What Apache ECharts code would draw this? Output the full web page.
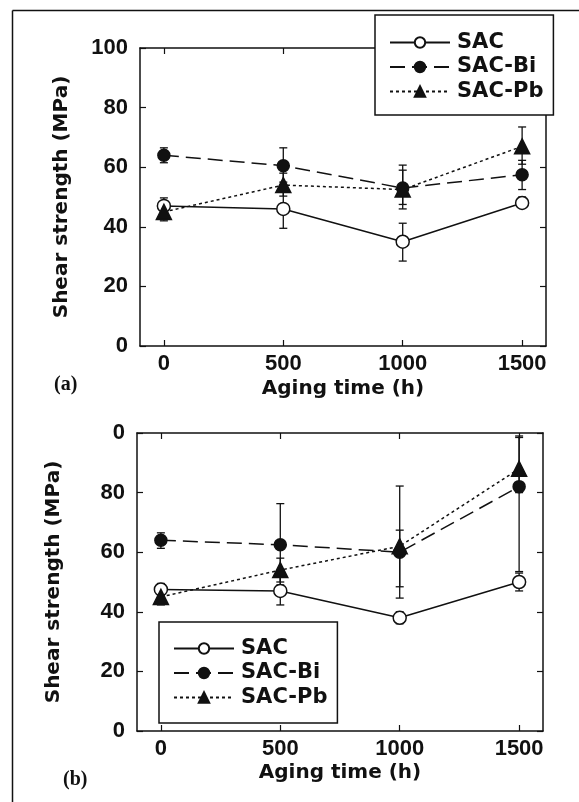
<!DOCTYPE html>
<html>
<head>
<meta charset="utf-8">
<title>Shear strength vs. aging time</title>
<script src="https://cdn.jsdelivr.net/npm/echarts@6/dist/echarts.min.js"></script>
<style>
  html, body { margin: 0; padding: 0; background: #fff; }
  #chart { width: 579px; height: 802px; }
</style>
</head>
<body>
<div id="chart"></div>
<script>
// Aging times (h) shared by both panels
const hours = [0, 500, 1000, 1500];
const xTickValues = [0, 500, 1000, 1500];
const yTicksA = ['0', '20', '40', '60', '80', '100'];
const yTicksB = ['0', '20', '40', '60', '80', '0'];
const seriesNames = ['SAC', 'SAC-Bi', 'SAC-Pb'];

// Panel (a): mean shear strength (MPa)
const sacA = [47, 46, 35, 48];
const biA  = [64, 60.5, 53, 57.5];
const pbA  = [45, 54, 52.5, 67];
// Panel (a): error bar limits
const sacALow = [45, 39.5, 28.5, 46.5];
const sacAHigh = [49.7, 52, 41.2, 50];
const biALow = [61.5, 55, 46, 52.5];
const biAHigh = [66.5, 66.5, 59, 62.3];
const pbALow = [42, 50.3, 47.5, 61];
const pbAHigh = [48, 58, 60.7, 73.5];

// Panel (b): mean shear strength (MPa)
const sacB = [47.5, 47, 38, 50];
const biB  = [64, 62.5, 60, 82];
const pbB  = [45, 54, 62, 88];
// Panel (b): error bar limits
const sacBLow = [45.5, 42.3, 36, 47];
const sacBHigh = [49.5, 52, 40, 53];
const biBLow = [61.3, 49, 44.6, 53.5];
const biBHigh = [66.5, 76.3, 82.2, 98.5];
const pbBLow = [42.3, 50, 48.4, 80];
const pbBHigh = [47.7, 58, 67.4, 99];

const INK = '#111';
const TICK_FONT = { color: INK, fontFamily: '"Liberation Sans", Arial, sans-serif', fontWeight: 'bold', fontSize: 22 };
const NAME_FONT = { color: INK, fontFamily: '"DejaVu Sans", sans-serif', fontWeight: 'bold', fontSize: 20 };

const styles = {
  'SAC':    { symbol: 'circle',   symbolSize: 13, line: { type: 'solid', width: 1.5 }, fill: '#fff' },
  'SAC-Bi': { symbol: 'circle',   symbolSize: 12, line: { type: [15, 7], width: 1.5 }, fill: INK },
  'SAC-Pb': { symbol: 'triangle', symbolSize: 15, line: { type: [3, 3], width: 1.5 }, fill: INK }
};

function lineSeries(name, values, gridIdx) {
  const s = styles[name];
  return {
    name: name,
    type: 'line',
    xAxisIndex: gridIdx * 2,
    yAxisIndex: gridIdx * 2,
    data: hours.map((h, i) => [h, values[i]]),
    symbol: s.symbol,
    symbolSize: s.symbolSize,
    showAllSymbol: true,
    lineStyle: { color: INK, width: s.line.width, type: s.line.type },
    itemStyle: { color: s.fill, borderColor: INK, borderWidth: 1.5 },
    emphasis: { disabled: true },
    z: 3
  };
}

function errorSeries(low, high, gridIdx) {
  return {
    type: 'custom',
    xAxisIndex: gridIdx * 2,
    yAxisIndex: gridIdx * 2,
    data: hours.map((h, i) => [h, low[i], high[i]]),
    silent: true,
    z: 2,
    renderItem: function (params, api) {
      const top = api.coord([api.value(0), api.value(2)]);
      const bot = api.coord([api.value(0), api.value(1)]);
      const half = 4;
      const style = { stroke: INK, lineWidth: 1.3, fill: null };
      return {
        type: 'group',
        children: [
          { type: 'line', shape: { x1: top[0], y1: top[1], x2: bot[0], y2: bot[1] }, style: style },
          { type: 'line', shape: { x1: top[0] - half, y1: top[1], x2: top[0] + half, y2: top[1] }, style: style },
          { type: 'line', shape: { x1: bot[0] - half, y1: bot[1], x2: bot[0] + half, y2: bot[1] }, style: style }
        ]
      };
    }
  };
}

function xAxes(gridIdx, nameGap) {
  return [
    {
      gridIndex: gridIdx, type: 'value', position: 'bottom', min: -100, max: 1600,
      name: 'Aging time (h)', nameLocation: 'middle', nameGap: nameGap, nameTextStyle: NAME_FONT,
      axisLine: { show: true, onZero: false, lineStyle: { color: INK, width: 1.5 } },
      axisTick: { show: true, inside: true, length: 6, customValues: xTickValues, lineStyle: { color: INK, width: 1.2 } },
      axisLabel: { customValues: xTickValues, margin: 7, ...TICK_FONT, formatter: v => String(v) },
      splitLine: { show: false }
    },
    {
      gridIndex: gridIdx, type: 'value', position: 'top', min: -100, max: 1600,
      axisLine: { show: true, onZero: false, lineStyle: { color: INK, width: 1.5 } },
      axisTick: { show: true, inside: true, length: 6, customValues: xTickValues, lineStyle: { color: INK, width: 1.2 } },
      axisLabel: { show: false },
      splitLine: { show: false }
    }
  ];
}

function yAxes(gridIdx, labels, nameGap) {
  return [
    {
      gridIndex: gridIdx, type: 'value', position: 'left', min: 0, max: 100, interval: 20,
      name: 'Shear strength (MPa)', nameLocation: 'middle', nameGap: nameGap, nameTextStyle: NAME_FONT,
      axisLine: { show: true, onZero: false, lineStyle: { color: INK, width: 1.5 } },
      axisTick: { show: true, inside: true, length: 6, lineStyle: { color: INK, width: 1.2 } },
      axisLabel: { margin: 12, ...TICK_FONT, formatter: v => labels[Math.round(v / 20)] },
      splitLine: { show: false }
    },
    {
      gridIndex: gridIdx, type: 'value', position: 'right', min: 0, max: 100, interval: 20,
      axisLine: { show: true, onZero: false, lineStyle: { color: INK, width: 1.5 } },
      axisTick: { show: true, inside: true, length: 6, lineStyle: { color: INK, width: 1.2 } },
      axisLabel: { show: false },
      splitLine: { show: false }
    }
  ];
}

function legendBox(left, top, padTop, padBottom) {
  return {
    orient: 'vertical',
    left: left, top: top,
    data: seriesNames,
    itemWidth: 60, itemHeight: 13, itemGap: 3.5,
    padding: [padTop, 10, padBottom, 14],
    borderColor: INK, borderWidth: 1.5,
    backgroundColor: '#fff',
    selectedMode: false,
    textStyle: { ...NAME_FONT, fontSize: 21, padding: [0, 0, 0, 2] },
    z: 10
  };
}

const chart = echarts.init(document.getElementById('chart'), null, { renderer: 'canvas' });

chart.setOption({
  animation: false,
  backgroundColor: '#fff',
  grid: [
    { left: 140, top: 48, width: 406, height: 298 },
    { left: 137, top: 433, width: 406, height: 298 }
  ],
  xAxis: [...xAxes(0, 33), ...xAxes(1, 32)],
  yAxis: [...yAxes(0, yTicksA, 68), ...yAxes(1, yTicksB, 73)],
  legend: [legendBox(375, 15, 17, 13), legendBox(159, 622, 16, 15)],
  graphic: [
    // figure frame
    { type: 'line', shape: { x1: 12.5, y1: 10.5, x2: 12.5, y2: 802 }, style: { stroke: INK, lineWidth: 1.5 } },
    { type: 'line', shape: { x1: 12.5, y1: 10.5, x2: 579, y2: 10.5 }, style: { stroke: INK, lineWidth: 1.5 } },
    // panel labels
    { type: 'text', left: 54, top: 375, style: { text: '(a)', fill: INK, font: 'bold 20px "Liberation Serif", "DejaVu Serif", serif' } },
    { type: 'text', left: 63, top: 770, style: { text: '(b)', fill: INK, font: 'bold 20px "Liberation Serif", "DejaVu Serif", serif' } }
  ],
  series: [
    errorSeries(sacALow, sacAHigh, 0),
    errorSeries(biALow, biAHigh, 0),
    errorSeries(pbALow, pbAHigh, 0),
    lineSeries('SAC', sacA, 0),
    lineSeries('SAC-Bi', biA, 0),
    lineSeries('SAC-Pb', pbA, 0),
    errorSeries(sacBLow, sacBHigh, 1),
    errorSeries(biBLow, biBHigh, 1),
    errorSeries(pbBLow, pbBHigh, 1),
    lineSeries('SAC', sacB, 1),
    lineSeries('SAC-Bi', biB, 1),
    lineSeries('SAC-Pb', pbB, 1)
  ]
});
</script>
</body>
</html>
